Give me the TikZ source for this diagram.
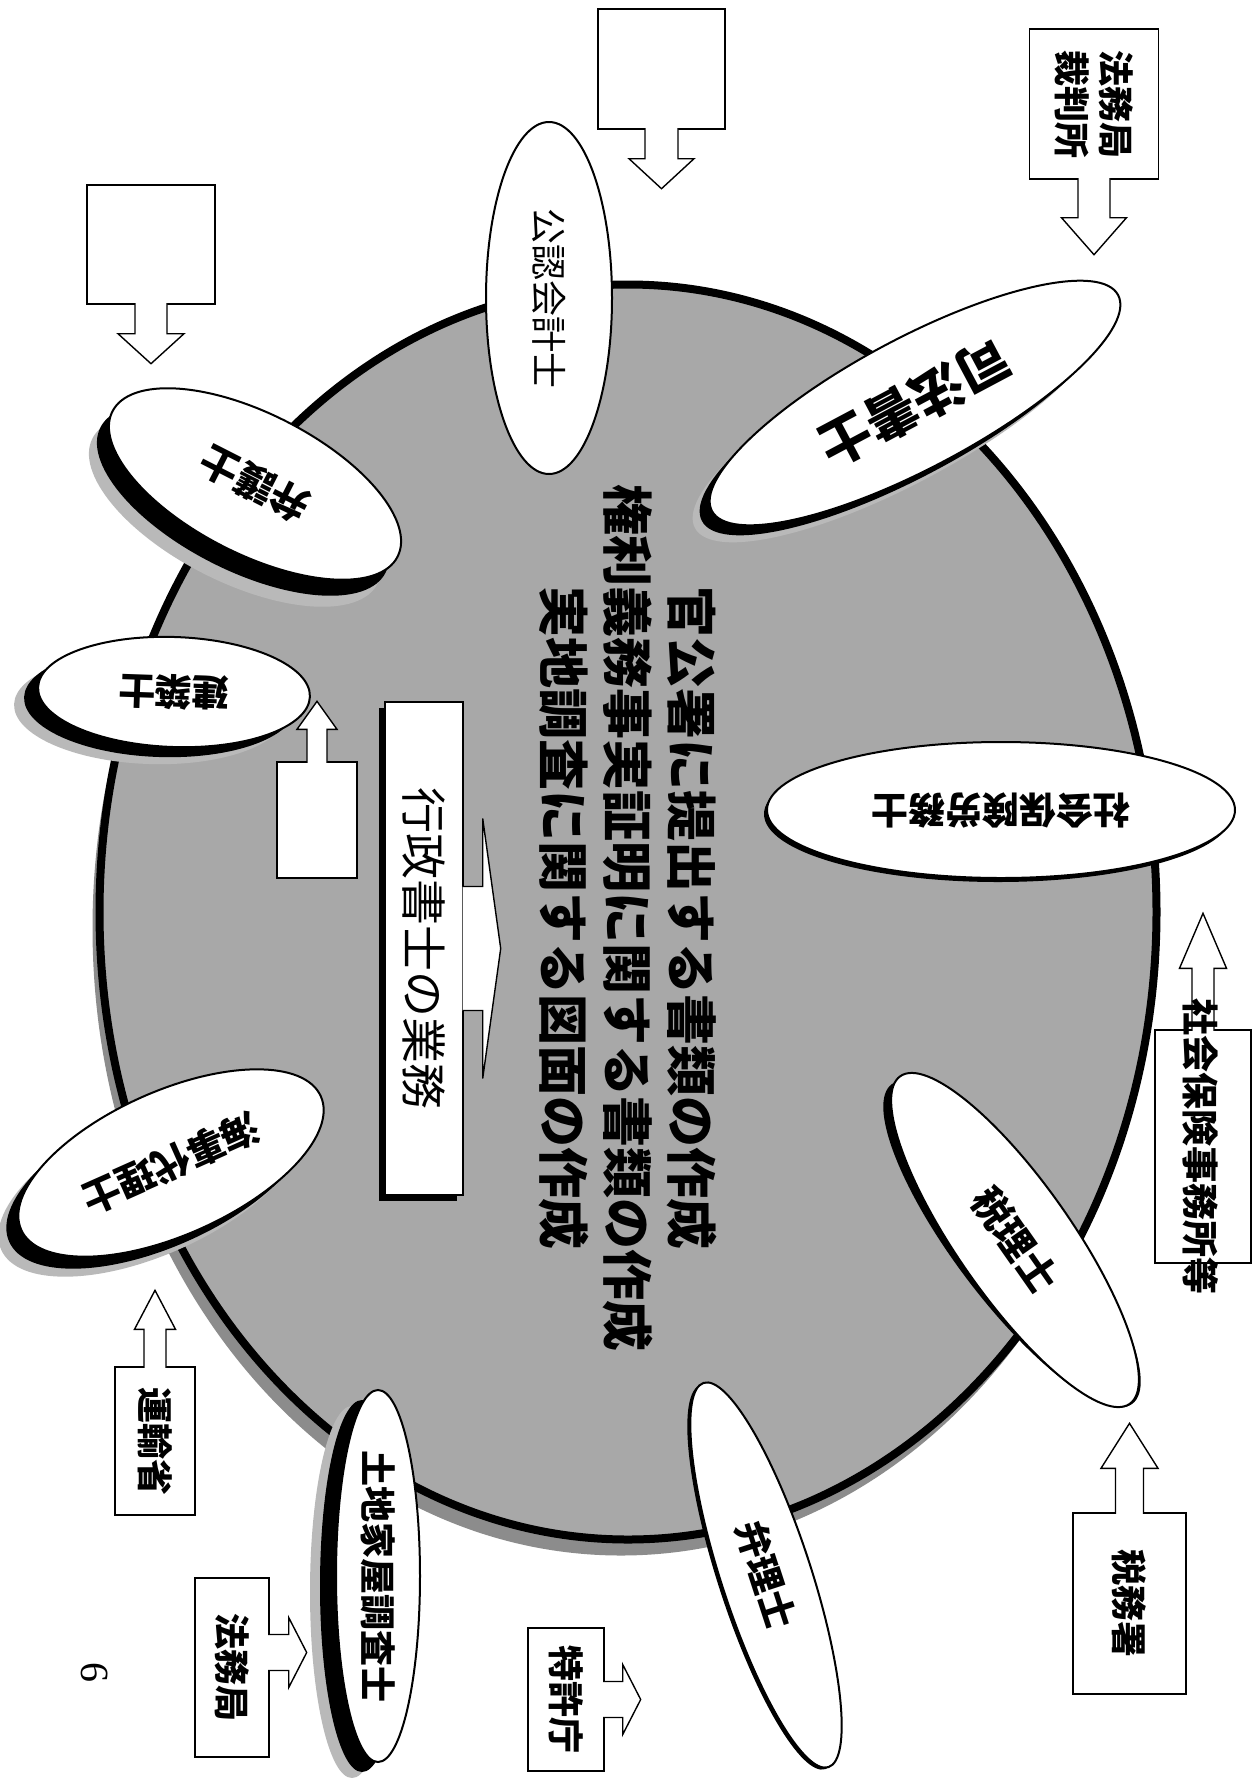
\documentclass[tikz,border=0pt]{standalone}
\usepackage{fontspec}
\setmainfont{Liberation Serif}
\newfontfamily\jp{Noto Sans CJK JP}
\usetikzlibrary{shapes.geometric, positioning}

\tikzset{
  fs/.style={font=\jp\bfseries\fontsize{#1}{#1}\selectfont},
  fr/.style={font=\jp\fontsize{#1}{#1}\selectfont},
  lab/.style={ellipse, draw, line width=2pt, fill=white, inner sep=0pt},
  labshadow/.style={ellipse, fill=black, inner sep=0pt},
  labhalo/.style={ellipse, fill=gray!55, inner sep=0pt},
  box/.style={draw, line width=1.4pt, fill=white, inner sep=2pt, align=center,
    font=\jp\bfseries\fontsize{36pt}{44pt}\selectfont},
  blockarrow/.style={draw, line width=1.4pt, fill=white, line join=miter}
}

\begin{document}
\begin{tikzpicture}[x=1pt, y=-1pt]
  \fill[white] (0,0) rectangle (1255,1778);
  \useasboundingbox (0,0) rectangle (1255,1778);

  % the whole page is a landscape sheet turned clockwise
  \node[ellipse, fill=black!45, minimum width=1057pt, minimum height=1255pt] (work-s) at (621,928) {};
  \node[ellipse, draw, line width=8pt, fill=gray!68, minimum width=1057pt, minimum height=1255pt] (work) at (628,912) {};

  \node[rotate=-90, align=center, font=\jp\bfseries\fontsize{51pt}{64pt}\selectfont] (duty) at (628,918)
    {官公署に提出する書類の作成\\権利義務事実証明に関する書類の作成\\実地調査に関する図面の作成};

  \fill[black] (379,708) rectangle (457,1201);
  \node[box, rotate=-90, minimum width=493pt, minimum height=78pt, fr=46pt] (gyosei) at (424,948.5) {行政書士の業務};
  \draw[blockarrow] (gyosei.north) +(-1,-62) -- +(19,-62) -- +(19,-130) -- +(37,0) -- +(19,130) -- +(19,62) -- +(-1,62);

  % boxes: for rotate=-90, west is the top, east the bottom, north the right side
  \node[box, minimum width=127pt, minimum height=120pt] (blankA) at (661.5,69) {};
  \node[box, minimum width=128pt, minimum height=119pt] (blankB) at (151,244.5) {};
  \node[box, minimum width=80pt, minimum height=116pt] (blankC) at (317,820) {};
  \node[box, rotate=-90, minimum width=150pt, minimum height=129pt] (hb) at (1094,104) {法務局\\裁判所};
  \node[box, rotate=-90, minimum width=148pt, minimum height=80pt] (unyu) at (155,1441) {運輸省};
  \node[box, rotate=-90, minimum width=179pt, minimum height=74pt] (houmu) at (232,1667.5) {法務局};
  \node[box, rotate=-90, minimum width=143pt, minimum height=76pt] (tokkyo) at (566,1699.5) {特許庁};
  \node[box, rotate=-90, minimum width=181pt, minimum height=113pt] (zeimu) at (1129.5,1603.5) {税務署};
  \node[box, rotate=-90, minimum width=233pt, minimum height=96pt] (shaho) at (1203,1146.5) {};

  \draw[blockarrow] (blankA.south) +(-16.5,-1.5) -- +(-16.5,29) -- +(-32.5,29) -- +(0,59) -- +(32.5,29) -- +(16.5,29) -- +(16.5,-1.5);
  \draw[blockarrow] (blankB.south) +(-16,-1.5) -- +(-16,29) -- +(-33,29) -- +(0,59) -- +(33,29) -- +(16,29) -- +(16,-1.5);
  \draw[blockarrow] (blankC.north) +(-10,1.5) -- +(-10,-32) -- +(-20,-32) -- +(0,-60) -- +(20,-32) -- +(10,-32) -- +(10,1.5);
  \draw[blockarrow] (hb.east) +(-16,-1.5) -- +(-16,38) -- +(-32.5,38) -- +(0,75) -- +(32.5,38) -- +(16,38) -- +(16,-1.5);
  \draw[blockarrow] (unyu.west) +(-11,1.5) -- +(-11,-37) -- +(-20.5,-37) -- +(0,-76) -- +(20.5,-37) -- +(11,-37) -- +(11,1.5);
  \draw[blockarrow] (houmu.north) +(-1.5,-33) -- +(19,-33) -- +(19,-50) -- +(37,-15) -- +(19,20) -- +(19,3) -- +(-1.5,3);
  \draw[blockarrow] (tokkyo.north) +(-1.5,-18) -- +(18,-18) -- +(18,-35) -- +(36,0) -- +(18,35) -- +(18,18) -- +(-1.5,18);
  \draw[blockarrow] (zeimu.west) +(-14,1.5) -- +(-14,-44) -- +(-28.5,-44) -- +(0,-89) -- +(28.5,-44) -- +(14,-44) -- +(14,1.5);
  \draw[blockarrow] (shaho.west) +(-11,1.5) -- +(-11,-61) -- +(-23.5,-61) -- +(0,-116) -- +(23.5,-61) -- +(11,-61) -- +(11,1.5);
  \node[rotate=-90, fs=37pt] (shaho-t) at ([xshift=-2pt]shaho.center) {社会保険事務所等};

  % the professions round the ring
  \node[labhalo, rotate=-152, minimum width=460pt, minimum height=130pt] (shiho-h) at (898,420) {};
  \node[labshadow, rotate=-152, minimum width=460pt, minimum height=130pt] (shiho-s) at (905,413) {};
  \node[lab, rotate=-152, minimum width=460pt, minimum height=130pt, fs=52pt] (shiho) at (915,403) {司法書士};

  \node[lab, rotate=-90, minimum width=352pt, minimum height=126pt, fr=36pt] (kounin) at (549,298) {公認会計士};

  \node[labshadow, rotate=180, minimum width=468pt, minimum height=136pt] (sharou-s) at (998,814) {};
  \node[lab, rotate=180, minimum width=468pt, minimum height=136pt, fs=37pt] (sharou) at (1001,810) {社会保険労務士};

  \node[labshadow, rotate=-53, minimum width=400pt, minimum height=114pt] (zeiri-s) at (1012,1244) {};
  \node[lab, rotate=-55, minimum width=400pt, minimum height=114pt, fs=39pt] (zeiri) at (1015,1240) {税理士};

  \node[labshadow, rotate=-72, minimum width=404pt, minimum height=90pt] (benri-s) at (763,1577) {};
  \node[lab, rotate=-72, minimum width=404pt, minimum height=90pt, fs=37pt] (benri) at (766,1575) {弁理士};

  \node[labhalo, rotate=-90, minimum width=372pt, minimum height=84pt] (tochi-h) at (352,1592) {};
  \node[labshadow, rotate=-90, minimum width=372pt, minimum height=84pt] (tochi-s) at (362,1586) {};
  \node[lab, rotate=-90, minimum width=372pt, minimum height=84pt, fs=36pt] (tochi) at (378,1576) {土地家屋調査士};

  \node[labhalo, rotate=-156, minimum width=328pt, minimum height=144pt] (kaiji-h) at (151,1183) {};
  \node[labshadow, rotate=-156, minimum width=328pt, minimum height=144pt] (kaiji-s) at (159,1175) {};
  \node[lab, rotate=-156, minimum width=328pt, minimum height=144pt, fs=38pt] (kaiji) at (171,1163) {海事代理士};

  \node[labhalo, rotate=178, minimum width=272pt, minimum height=110pt] (kenchiku-h) at (150,709) {};
  \node[labshadow, rotate=178, minimum width=272pt, minimum height=110pt] (kenchiku-s) at (160,702) {};
  \node[lab, rotate=178, minimum width=272pt, minimum height=110pt, fs=37pt] (kenchiku) at (174,692) {建築士};

  \node[labhalo, rotate=153, minimum width=320pt, minimum height=140pt] (bengo-h) at (235,511) {};
  \node[labshadow, rotate=153, minimum width=320pt, minimum height=140pt] (bengo-s) at (243,500) {};
  \node[lab, rotate=153, minimum width=320pt, minimum height=140pt, fs=39pt] (bengo) at (255,484) {弁護士};

  \node[rotate=-90, font=\fontsize{40pt}{40pt}\selectfont] (page) at (95,1672) {6};
\end{tikzpicture}
\end{document}
